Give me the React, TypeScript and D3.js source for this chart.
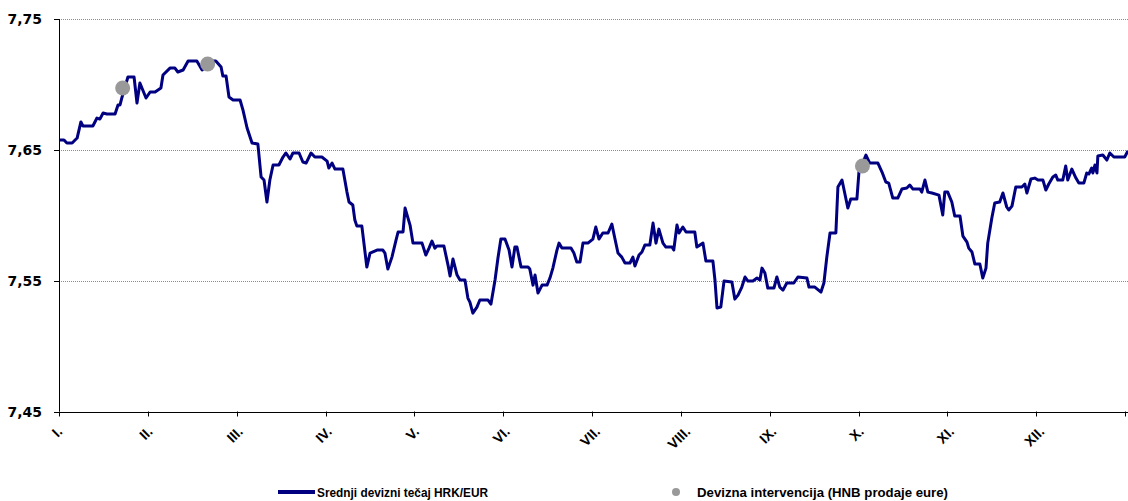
import React, { useEffect, useRef } from "react";
import * as d3 from "d3";

const months = ["I.", "II.", "III.", "IV.", "V.", "VI.", "VII.", "VIII.", "IX.", "X.", "XI.", "XII."];
const yTicks = [7.45, 7.55, 7.65, 7.75];

// day of year (position on the time axis) and middle HRK/EUR rate
const days = [
  0.3, 1.7, 2.7, 4.5, 6.2, 7.5, 8.2, 11.6, 13.0, 14.0, 15.1, 16.4, 19.2, 20.2, 20.9, 21.6, 23.6, 25.7, 26.7, 27.7,
  29.8, 31.2, 32.9, 34.9, 35.6, 38.0, 39.7, 40.7, 42.5, 44.2, 47.2, 49.0, 51.7, 53.7, 55.5, 56.1, 57.2, 58.2, 59.6, 62.0,
  63.0, 64.4, 66.1, 68.1, 69.2, 70.2, 71.2, 72.2, 73.3, 75.3, 76.7, 77.7, 79.1, 80.1, 82.2, 83.5, 84.6, 86.3, 87.6, 90.0,
  91.8, 92.4, 93.5, 94.5, 97.2, 98.6, 99.3, 100.6, 101.3, 102.0, 103.7, 105.4, 106.5, 108.9, 110.9, 111.6, 112.6, 114.0, 115.4, 116.1,
  117.8, 118.5, 120.2, 121.2, 124.3, 125.6, 126.7, 127.7, 128.7, 129.4, 131.8, 133.2, 133.9, 134.9, 136.3, 137.3, 139.0, 140.0, 140.7, 141.7,
  143.1, 144.1, 146.9, 147.9, 149.3, 150.3, 151.3, 152.7, 154.1, 155.1, 156.1, 156.8, 158.2, 160.6, 161.2, 162.3, 163.0, 164.0, 165.4, 167.1,
  168.1, 169.1, 170.5, 171.2, 172.2, 175.3, 176.3, 177.3, 178.4, 179.4, 181.1, 182.8, 183.8, 184.9, 186.2, 188.0, 189.3, 190.3, 191.4, 192.7,
  193.8, 195.5, 196.5, 197.2, 198.6, 199.6, 200.6, 202.3, 203.4, 204.4, 205.4, 206.8, 207.8, 209.9, 210.5, 211.6, 212.3, 213.6, 214.7, 217.7,
  218.4, 220.5, 221.5, 223.9, 224.6, 225.3, 226.6, 227.7, 230.4, 231.4, 232.5, 233.8, 234.9, 235.9, 237.6, 239.0, 240.0, 240.7, 241.7, 242.7,
  244.8, 245.8, 246.8, 247.9, 249.2, 251.6, 253.0, 256.1, 256.8, 258.8, 260.9, 261.9, 262.9, 264.0, 266.0, 266.7, 268.1, 270.1, 271.1, 273.2,
  273.9, 275.2, 276.3, 277.6, 280.4, 281.8, 283.1, 284.1, 285.5, 287.2, 288.6, 290.3, 291.3, 292.4, 294.8, 295.4, 296.5, 297.5, 298.9, 301.3,
  302.6, 303.3, 304.3, 305.7, 306.7, 308.5, 309.5, 310.9, 311.5, 312.6, 313.6, 315.3, 316.3, 317.4, 318.0, 319.4, 320.4, 322.1, 323.2, 324.5,
  325.2, 326.3, 327.6, 329.7, 330.7, 331.4, 332.8, 334.1, 335.2, 336.9, 337.9, 338.9, 340.3, 341.3, 342.0, 343.7, 344.7, 345.4, 346.8, 348.2,
  349.2, 350.9, 351.9, 352.6, 353.6, 354.0, 354.7, 355.4, 355.7, 357.4, 358.8, 359.8, 361.2, 364.9, 366.0,
];

const rates = [
  7.6575, 7.6575, 7.6552, 7.6552, 7.659, 7.6713, 7.6682, 7.6682, 7.6743, 7.6735, 7.6781, 7.6774, 7.6774, 7.6843, 7.6843, 7.6904, 7.7057, 7.7057, 7.6858, 7.7011,
  7.6896, 7.6942, 7.6942, 7.6972, 7.7072, 7.7125, 7.7125, 7.7095, 7.711, 7.7179, 7.7179, 7.711, 7.7179, 7.7179, 7.7133, 7.7064, 7.7064, 7.6904, 7.6881, 7.6881,
  7.6804, 7.6667, 7.6552, 7.6544, 7.6292, 7.6269, 7.6101, 7.6269, 7.6384, 7.6384, 7.6445, 7.6476, 7.643, 7.6476, 7.6476, 7.6407, 7.6399, 7.6476, 7.6445, 7.6445,
  7.6414, 7.6361, 7.6399, 7.6353, 7.6353, 7.6177, 7.6101, 7.6078, 7.5963, 7.5917, 7.5917, 7.5604, 7.5711, 7.5734, 7.5734, 7.5711, 7.5589, 7.568, 7.581, 7.5872,
  7.5872, 7.6055, 7.5925, 7.5787, 7.5787, 7.5696, 7.5749, 7.5803, 7.5749, 7.5765, 7.5765, 7.5619, 7.5535, 7.5665, 7.5543, 7.5505, 7.5505, 7.5367, 7.5336, 7.5252,
  7.5298, 7.5352, 7.5352, 7.5321, 7.5505, 7.5673, 7.5818, 7.5818, 7.5734, 7.5604, 7.5757, 7.5757, 7.5604, 7.5604, 7.5589, 7.5466, 7.5543, 7.5405, 7.5466, 7.5466,
  7.552, 7.5596, 7.5734, 7.5787, 7.5749, 7.5749, 7.5711, 7.5642, 7.5642, 7.5787, 7.5787, 7.5818, 7.591, 7.5818, 7.5864, 7.5864, 7.5933, 7.5826, 7.5711, 7.568,
  7.5635, 7.5635, 7.568, 7.5612, 7.5696, 7.5719, 7.5772, 7.5772, 7.594, 7.5787, 7.5894, 7.5787, 7.5757, 7.5757, 7.5734, 7.5925, 7.5864, 7.591, 7.5872, 7.5872,
  7.5757, 7.5787, 7.565, 7.565, 7.5505, 7.5291, 7.5298, 7.5497, 7.5489, 7.5359, 7.539, 7.5451, 7.5528, 7.5497, 7.5497, 7.552, 7.5505, 7.5596, 7.5558, 7.5443,
  7.5443, 7.5528, 7.5451, 7.5428, 7.5482, 7.5482, 7.5528, 7.552, 7.5451, 7.5451, 7.5413, 7.5482, 7.568, 7.5864, 7.5864, 7.6216, 7.6269, 7.6055, 7.6124, 7.6124,
  7.633, 7.6399, 7.646, 7.6399, 7.6399, 7.633, 7.6254, 7.6246, 7.6131, 7.6131, 7.62, 7.6208, 7.6231, 7.62, 7.62, 7.6177, 7.6269, 7.6177, 7.617, 7.6154,
  7.6002, 7.6177, 7.6177, 7.6101, 7.5994, 7.5994, 7.5841, 7.5795, 7.5749, 7.5719, 7.5627, 7.5627, 7.552, 7.5596, 7.5787, 7.5979, 7.6093, 7.6101, 7.617, 7.6063,
  7.604, 7.607, 7.6216, 7.6216, 7.6239, 7.617, 7.6277, 7.6284, 7.6269, 7.6269, 7.6193, 7.6239, 7.6292, 7.6307, 7.6269, 7.6269, 7.6376, 7.6269, 7.6353, 7.6284,
  7.6246, 7.6246, 7.6323, 7.6315, 7.6361, 7.6323, 7.6384, 7.6323, 7.6453, 7.646, 7.6422, 7.6476, 7.6445, 7.6445, 7.6491,
];

// FX interventions (HNB selling euros)
const interventionDays = [21.8, 50.9, 275.1];
const interventionRates = [7.6973, 7.7156, 7.6376];

const LINE_COLOR = "#000080";
const DOT_COLOR = "#999999";

export default function App() {
  const W = 1128;
  const H = 501;
  const x = d3.scaleLinear().domain([0, 365]).range([59, 1125]);
  const y = d3.scaleLinear().domain([7.45, 7.75]).range([411.5, 19]);
  const labelsRef = useRef<SVGGElement | null>(null);

  const series = days.map((d, i) => [d, rates[i]] as [number, number]);
  const line = d3
    .line<[number, number]>()
    .x((d) => x(d[0]))
    .y((d) => y(d[1]))
    .curve(d3.curveLinear);

  const monthPos = months.map((_, i) => (i * 365) / 12);
  const fmt = (v: number) => v.toFixed(2).replace(".", ",");
  const x0 = x(0);
  const yBottom = y(7.45);

  useEffect(() => {
    if (!labelsRef.current) return;
    const g = d3.select(labelsRef.current);
    g.selectAll("*").remove();
    const capH = 10;
    g.selectAll("text")
      .data(months)
      .enter()
      .append("text")
      .attr("text-anchor", "end")
      .attr("font-family", "'Liberation Sans', Arial, sans-serif")
      .attr("font-weight", "bold")
      .attr("font-size", 14)
      .attr("fill", "#000")
      .text((d) => d)
      .each(function (_d, i) {
        const el = this as SVGTextElement;
        const L = el.getComputedTextLength();
        const px = x(monthPos[i]) + 0.354 * (L + capH) - 2;
        const py = yBottom + 21;
        el.style.transformBox = "view-box";
        el.style.transformOrigin = "0px 0px";
        el.style.transform = `translate(${px}px, ${py}px) rotate(-45deg)`;
      });
  }, []);

  return (
    <svg
      width={W}
      height={H}
      style={{ position: "absolute", left: 0, top: 0, background: "#fff" }}
    >
      <rect x={0} y={0} width={W} height={H} fill="#fff" />
      {/* gridlines */}
      {yTicks
        .filter((t) => t !== 7.45)
        .map((t) => (
          <line
            key={t}
            x1={x0}
            x2={W}
            y1={Math.round(y(t)) + 0.5}
            y2={Math.round(y(t)) + 0.5}
            stroke="#8c8c8c"
            strokeWidth={1}
            strokeDasharray="1,1"
          />
        ))}
      {/* y axis */}
      <line x1={x0 + 0.5} x2={x0 + 0.5} y1={y(7.75)} y2={yBottom} stroke="#000" strokeWidth={1} />
      {yTicks.map((t) => (
        <g key={"yt" + t}>
          <line
            x1={x0 - 5}
            x2={x0}
            y1={Math.round(y(t)) + 0.5}
            y2={Math.round(y(t)) + 0.5}
            stroke="#000"
          />
          <text
            x={42}
            y={y(t) + 5}
            textAnchor="end"
            fontFamily="'DejaVu Sans', Verdana, sans-serif"
            fontWeight="bold"
            fontSize={14}
            fill="#000"
          >
            {fmt(t)}
          </text>
        </g>
      ))}
      {/* x axis */}
      <line x1={x0} x2={W} y1={Math.round(yBottom) + 0.5} y2={Math.round(yBottom) + 0.5} stroke="#000" />
      {monthPos.concat([365]).map((m, i) => (
        <line
          key={"xt" + i}
          x1={Math.round(x(m)) + 0.5}
          x2={Math.round(x(m)) + 0.5}
          y1={yBottom}
          y2={yBottom + 5}
          stroke="#000"
        />
      ))}
      <g ref={labelsRef} />
      {/* rate line */}
      <path d={line(series) || ""} fill="none" stroke={LINE_COLOR} strokeWidth={3} strokeLinejoin="round" />
      {/* intervention dots */}
      {interventionDays.map((d, i) => (
        <circle key={"iv" + i} cx={x(d)} cy={y(interventionRates[i])} r={7.5} fill={DOT_COLOR} />
      ))}
      {/* legend */}
      <line x1={278} x2={315} y1={492} y2={492} stroke={LINE_COLOR} strokeWidth={4} />
      <text
        x={317}
        y={496.5}
        fontFamily="'Liberation Sans Narrow', 'Arial Narrow', 'Liberation Sans', sans-serif"
        fontWeight="bold"
        fontSize={13}
        textLength={171}
        lengthAdjust="spacingAndGlyphs"
        fill="#000"
      >
        Srednji devizni tečaj HRK/EUR
      </text>
      <circle cx={676} cy={492} r={4} fill={DOT_COLOR} />
      <text
        x={697}
        y={496.5}
        fontFamily="'Liberation Sans Narrow', 'Arial Narrow', 'Liberation Sans', sans-serif"
        fontWeight="bold"
        fontSize={13}
        textLength={251}
        lengthAdjust="spacingAndGlyphs"
        fill="#000"
      >
        Devizna intervencija (HNB prodaje eure)
      </text>
    </svg>
  );
}
